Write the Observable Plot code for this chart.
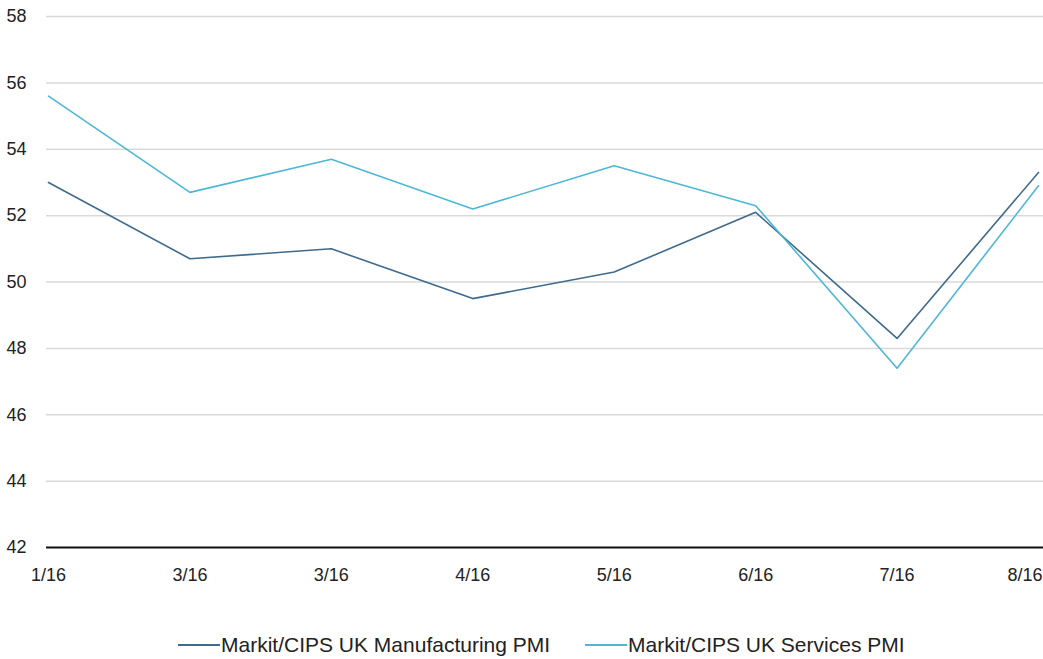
<!DOCTYPE html>
<html>
<head>
<meta charset="utf-8">
<script src="https://cdn.jsdelivr.net/npm/d3@7"></script>
<script src="https://cdn.jsdelivr.net/npm/@observablehq/plot@0.6"></script>
<style>
  body { margin: 0; background: #fff; font-family: "Liberation Sans", Arial, sans-serif; }
  #wrap { width: 1043px; position: relative; }
  #legend { position: relative; height: 49px; width: 1043px; font-size: 21px; color: #222; }
  .item { position: absolute; top: 35px; display: flex; align-items: center; }
  .swatch { width: 42px; height: 2px; margin-right: 1px; }
</style>
</head>
<body>
<div id="wrap"></div>
<script>
const categories = ["1/16", "3/16", "3/16", "4/16", "5/16", "6/16", "7/16", "8/16"];
const manufacturing = [53.0, 50.7, 51.0, 49.5, 50.3, 52.1, 48.3, 53.3];
const services = [55.6, 52.7, 53.7, 52.2, 53.5, 52.3, 47.4, 52.9];
const yTicks = [42, 44, 46, 48, 50, 52, 54, 56, 58];
const seriesNames = ["Markit/CIPS UK Manufacturing PMI", "Markit/CIPS UK Services PMI"];
const colors = ["#3f6a8c", "#4db7d8"];

const rows = [];
categories.forEach((c, i) => {
  rows.push({i, label: c, value: manufacturing[i], series: seriesNames[0]});
  rows.push({i, label: c, value: services[i], series: seriesNames[1]});
});
const xLabels = categories.map((c, i) => ({i, label: c}));

const chart = Plot.plot({
  width: 1043,
  height: 610,
  marginTop: 16,
  marginBottom: 63,
  marginLeft: 48,
  marginRight: 5,
  style: {fontFamily: "'Liberation Sans', Arial, sans-serif", fontSize: "18px", color: "#222"},
  x: {domain: [0, categories.length - 1], axis: null},
  y: {domain: [42, 58], ticks: yTicks, tickSize: 0, tickPadding: 22, tickFormat: d => d, label: null},
  color: {domain: seriesNames, range: colors},
  marks: [
    Plot.ruleY(yTicks.filter(d => d !== 42), {stroke: "#d9d9d9", strokeWidth: 1.5, insetLeft: -2, insetRight: -5}),
    Plot.ruleY([42], {stroke: "#111", strokeWidth: 2, insetLeft: -2, insetRight: -5}),
    Plot.axisY({ticks: yTicks, tickSize: 0, tickPadding: 22, fontSize: 18, fill: "#222", tickFormat: d => d, label: null}),
    Plot.text(xLabels.slice(0, -1), {x: "i", y: () => 42, text: "label", dy: 28, fill: "#222", fontSize: 18}),
    Plot.text(xLabels.slice(-1), {x: "i", y: () => 42, text: "label", dy: 28, dx: 4, textAnchor: "end", fill: "#222", fontSize: 18}),
    Plot.line(rows, {x: "i", y: "value", z: "series", stroke: "series", strokeWidth: 1.6})
  ]
});

const wrap = document.getElementById("wrap");
wrap.appendChild(chart);

const legend = document.createElement("div");
legend.id = "legend";
const lefts = [178, 585];
seriesNames.forEach((name, k) => {
  const item = document.createElement("div");
  item.className = "item";
  item.style.left = lefts[k] + "px";
  item.style.transform = "translateY(-50%)";
  const sw = document.createElement("span");
  sw.className = "swatch";
  sw.style.background = colors[k];
  const t = document.createElement("span");
  t.textContent = name;
  item.appendChild(sw);
  item.appendChild(t);
  legend.appendChild(item);
});
wrap.appendChild(legend);
</script>
</body>
</html>
